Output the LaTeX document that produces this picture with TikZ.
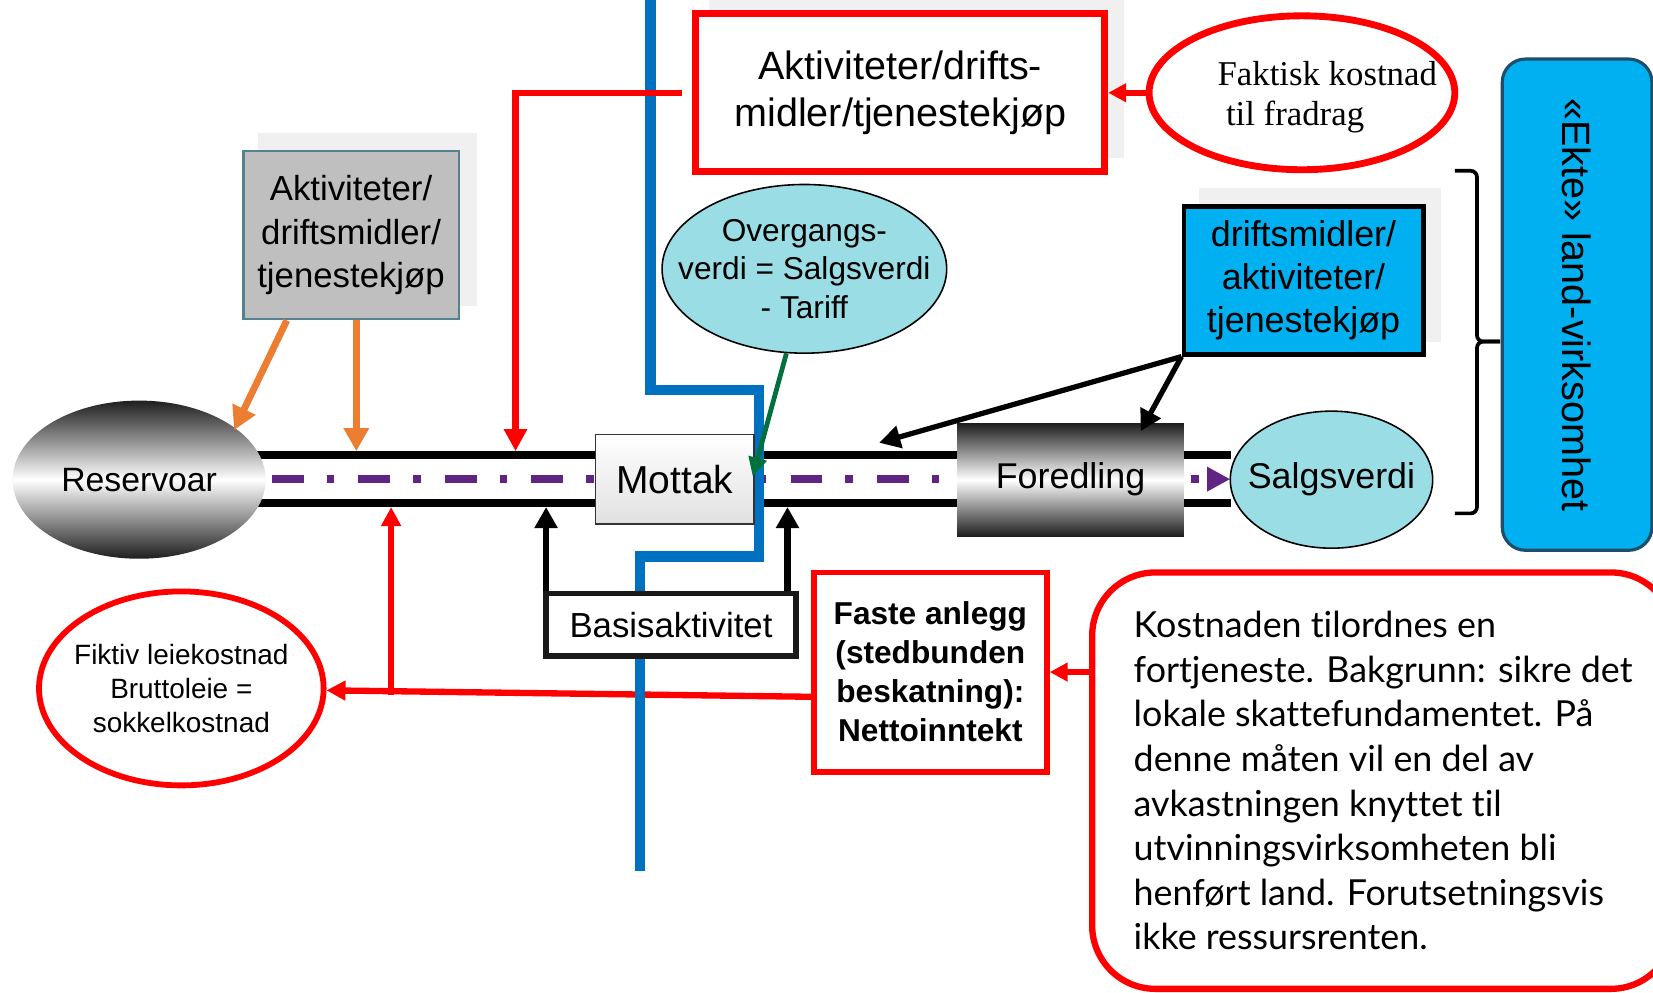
\documentclass[tikz,border=0pt]{standalone}
\usepackage{fontspec}
\setmainfont{Liberation Sans}
\newfontfamily\serifcap{Liberation Serif}
\newfontfamily\notefont[Ligatures=NoCommon]{Lato}
\usetikzlibrary{arrows.meta,shapes.geometric}
\definecolor{pipeblue}{RGB}{0,112,192}
\definecolor{skyfill}{RGB}{0,176,240}
\definecolor{tealfill}{RGB}{155,221,228}
\definecolor{orangeln}{RGB}{237,125,49}
\definecolor{flowpurple}{RGB}{96,37,130}
\definecolor{darkgreen}{RGB}{0,112,60}
\definecolor{shadowgray}{RGB}{240,240,240}
\definecolor{boxgray}{RGB}{191,191,191}
\definecolor{boxedge}{RGB}{84,130,144}
\definecolor{ekteedge}{RGB}{31,78,106}
\newcommand{\fsz}[2]{\fontsize{#1}{#2}\selectfont}

\begin{document}
\begin{tikzpicture}[x=1pt,y=-1pt,
    shade box/.style={top color=black!88,bottom color=black!88,middle color=white},
    redline/.style={draw=red,line width=6pt},
    redarrow/.style={redline,-{Triangle[length=#1,width=#1]}},
    redarrow/.default=21pt,
    blackarrow/.style={draw=black,line width=6pt,-{Triangle[length=20pt,width=21pt]}},
    orangearrow/.style={draw=orangeln,line width=6.5pt,-{Triangle[length=22pt,width=23pt]}},
    greenarrow/.style={draw=darkgreen,line width=4.5pt,-{Triangle[length=18pt,width=17pt]}},
    wall/.style={line width=7.5pt},
    flow/.style={draw=flowpurple,line width=7pt,dash pattern=on 30pt off 22pt on 7pt off 23pt,
      -{Triangle[length=22pt,width=22pt]}}]
  \useasboundingbox (0,0) rectangle (1568,941);

  \fill[shadowgray] (245,126) rectangle (452,290);
  \fill[shadowgray] (673,0) rectangle (1066,150);
  \fill[shadowgray] (1137,178) rectangle (1367,324);

  \coordinate (wallTL) at (240,432);
  \coordinate (wallTR) at (1168,432);
  \coordinate (wallBL) at (240,477);
  \coordinate (wallBR) at (1168,477);
  \draw[wall] (wallTL) -- (wallTR);
  \draw[wall] (wallBL) -- (wallBR);
  \coordinate (flowA) at (258,454.5);
  \coordinate (flowB) at (1167,454.5);
  \draw[flow] (flowA) -- (flowB);

  \node[ellipse,draw=red,line width=5.5pt,minimum width=270pt,minimum height=184pt,
    label={[font=\fsz{26.5}{32},align=center]center:{Fiktiv leiekostnad\\Bruttoleie =\\sokkelkostnad}}]
    (fiktiv) at (172,653) {};
  \node[draw=red,line width=5.5pt,fill=white,minimum width=221pt,minimum height=189pt,
    align=center,font=\bfseries\fsz{30}{37}] (faste) at (882.5,637.5)
    {Faste anlegg\\(stedbunden\\beskatning):\\Nettoinntekt};
  \coordinate (fasteL) at (772,661);
  \coordinate (fiktivUp) at (371,659);
  \coordinate (wallB1) at (371,481);
  \draw[redarrow=18pt] (fasteL) -- (fiktiv);
  \draw[redarrow=18pt] (fiktivUp) -- (wallB1);

  \draw[pipeblue,line width=10pt] (617,0) -- (617,370) -- (720,370) -- (720,528)
    -- (607,528) -- (607,826);

  \node[ellipse,shade box,minimum width=240pt,minimum height=150pt,font=\fsz{32}{38}]
    (res) at (132,455) {Reservoar};
  \node[draw=black!80,line width=1.5pt,top color=white,bottom color=black!12,
    minimum width=150pt,minimum height=85pt,font=\fsz{37}{44}] (mottak) at (640,454.5) {Mottak};
  \node[shade box,minimum width=215pt,minimum height=107pt,font=\fsz{34}{40}]
    (fored) at (1015.5,455) {Foredling};
  \node[ellipse,draw,line width=1.5pt,fill=tealfill,minimum width=192pt,minimum height=130pt,
    label={[font=\fsz{34}{40}]center:Salgsverdi}] (salg) at (1263,455) {};
  \node[draw=black!90,line width=5.5pt,fill=white,minimum width=237pt,minimum height=59pt,
    font=\fsz{33}{40}] (basis) at (636.5,592.5) {Basisaktivitet};
  \node[draw=boxedge,line width=2pt,fill=boxgray,minimum width=204pt,minimum height=160pt,
    align=center,font=\fsz{33}{41}] (gray) at (333,223) {Aktiviteter/\\driftsmidler/\\tjenestekjøp};
  \node[draw=red,line width=6.5pt,fill=white,minimum width=388pt,minimum height=150pt,
    align=center,font=\fsz{37.5}{45}] (top) at (854,88) {Aktiviteter/drifts-\\midler/tjenestekjøp};
  \node[ellipse,draw=red,line width=6.5pt,minimum width=290pt,minimum height=146pt,
    label={[font=\serifcap\fsz{33}{38},align=left,xshift=24pt,yshift=-4pt]center:{Faktisk kostnad\\\hspace*{8pt}til fradrag}}]
    (fak) at (1235,88) {};
  \node[ellipse,draw,line width=1.5pt,fill=tealfill,minimum width=270pt,minimum height=160pt,
    label={[font=\fsz{30}{36.5},align=center]center:{Overgangs-\\verdi = Salgsverdi\\- Tariff}}]
    (overg) at (763,255) {};
  \node[draw,line width=4.5pt,fill=skyfill,minimum width=227pt,minimum height=140pt,
    align=center,font=\fsz{34}{41}] (blue) at (1236.5,266) {driftsmidler/\\aktiviteter/\\tjenestekjøp};
  \node[draw=ekteedge,line width=3pt,fill=skyfill,rounded corners=22pt,rotate=-90,
    minimum width=466pt,minimum height=142pt,font=\fsz{37.5}{44}] (ekte) at (1496,289)
    {«Ekte» land-virksomhet};
  \node[draw=red,line width=6pt,rounded corners=60pt,minimum width=552pt,minimum height=395pt,
    align=left,font=\notefont\fsz{34}{42.3}] (note) at (1312,740.5)
    {Kostnaden tilordnes en\\fortjeneste. Bakgrunn: sikre det\\lokale skattefundamentet. På\\
     denne måten vil en del av\\avkastningen knyttet til\\utvinningsvirksomheten bli\\
     henført land. Forutsetningsvis\\ikke ressursrenten.};

  \draw[line width=3.5pt,rounded corners=6pt] (1380,162) -- (1401,162) -- (1401,324) -- (1423,324);
  \draw[line width=3.5pt,rounded corners=6pt] (1380,487) -- (1401,487) -- (1401,324) -- (1423,324);

  \coordinate (wallT1) at (338,428);
  \coordinate (resHit) at (222,408);
  \coordinate (wallT2) at (489,428);
  \coordinate (wallB2) at (518,481);
  \coordinate (wallB3) at (747,481);
  \coordinate (wallT3) at (834,420);
  \coordinate (foredHit) at (1082,409);
  \coordinate (mottakHit) at (714,452);
  \draw[orangearrow] ([xshift=-61pt]gray.south) -- (resHit);
  \draw[orangearrow] (gray.south -| wallT1) -- (wallT1);
  \draw[redarrow] ([xshift=-10pt]top.west) -| (wallT2);
  \draw[blackarrow] (basis.north -| wallB2) -- (wallB2);
  \draw[blackarrow] (basis.north -| wallB3) -- (wallB3);
  \draw[blackarrow,line width=5pt] (blue.south west) -- (wallT3);
  \draw[blackarrow,line width=5pt] (blue.south west) -- (foredHit);
  \draw[greenarrow] (overg.-102) -- (mottakHit);
  \draw[redarrow=17pt] (fak.west) -- (top.east);
  \draw[redarrow=17pt] (note.west |- faste.east) -- (faste.east);
\end{tikzpicture}
\end{document}
